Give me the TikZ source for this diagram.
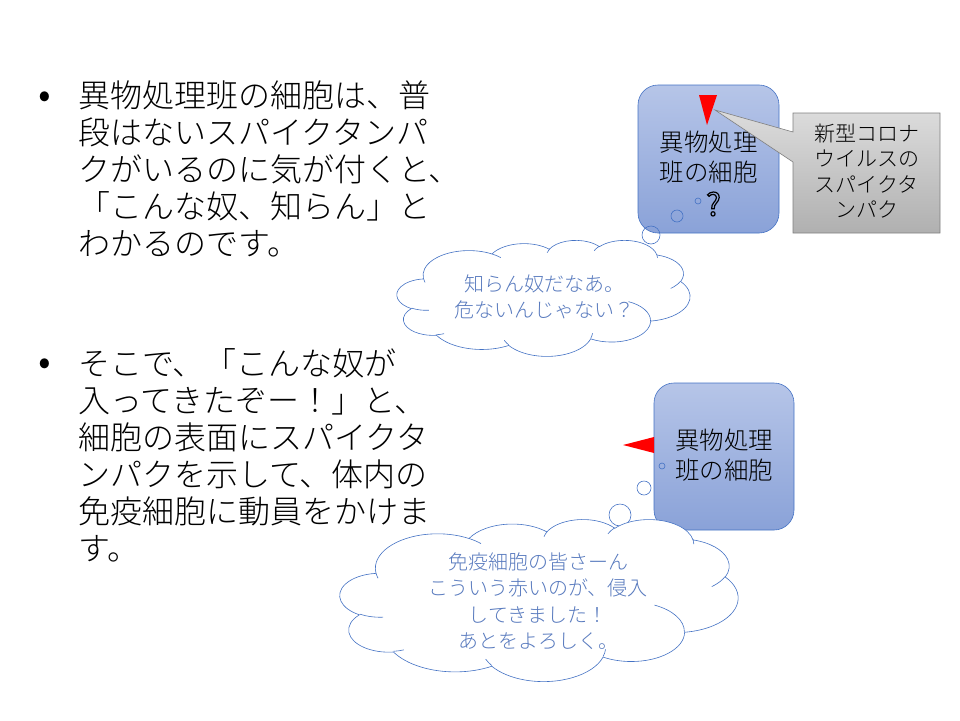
\documentclass[tikz,border=0pt]{standalone}
\usepackage{fontspec}
\IfFontExistsTF{Noto Sans CJK JP Light}{\setmainfont{Noto Sans CJK JP Light}}{\setmainfont{Noto Sans CJK JP}}
\newfontfamily\qfont{Noto Sans CJK JP}

\definecolor{cellTop}{RGB}{182,197,232}
\definecolor{cellBot}{RGB}{138,162,216}
\definecolor{cellLine}{RGB}{68,114,196}
\definecolor{callTop}{RGB}{220,220,220}
\definecolor{callBot}{RGB}{176,176,176}
\definecolor{callLine}{RGB}{128,128,128}
\definecolor{thinkText}{RGB}{88,122,190}

% arc with visual angles (deg) on an ellipse of radii #1,#2
\newcommand\puffarc[4]{%
  \pgfextra{%
    \pgfmathsetmacro\pA{atan2(#1*sin(#3),#2*cos(#3))}%
    \pgfmathsetmacro\pB{atan2(#1*sin(#3+#4),#2*cos(#3+#4))}%
    \pgfmathsetmacro\pD{mod(\pB-\pA+720,360)}}
  arc[start angle=\pA, delta angle=\pD, x radius=#1, y radius=#2]}

% cloud outline in a 432 x 432 box
\newcommand\cloudline{(39.00,143.70)
  \puffarc{67.53}{91.90}{-190.48748}{123.78053}
  \puffarc{53.33}{72.67}{-144.10238}{89.94523}
  \puffarc{43.65}{59.45}{-145.80792}{99.72302}
  \puffarc{48.57}{65.95}{-130.98607}{117.24173}
  \puffarc{53.33}{72.73}{-78.70888}{109.02692}
  \puffarc{67.75}{92.20}{-46.26725}{130.26900}
  \puffarc{57.85}{78.67}{0.62502}{114.03333}
  \puffarc{67.52}{92.15}{22.45160}{115.17255}
  \puffarc{77.20}{105.43}{66.24263}{75.71102}
  \puffarc{43.60}{59.18}{-274.94208}{146.73557}
  \puffarc{43.45}{59.45}{-246.82850}{152.51885} -- cycle}
\newcommand\cloudcurls{
  (46.93,261.77) \puffarc{43.45}{59.45}{86.74200}{26.42950}
  (69.28,348.99) \puffarc{43.60}{59.18}{73.61047}{11.44747}
  (164.78,390.90) \puffarc{67.52}{92.15}{137.62415}{14.08110}
  (288.27,347.51) \puffarc{67.52}{92.15}{6.45327}{15.99835}
  (341.29,229.54) \puffarc{57.85}{78.67}{-70.29235}{70.91737}
  (417.98,153.54) \puffarc{53.33}{72.73}{30.31803}{27.75150}
  (383.24,54.26) \puffarc{48.57}{65.95}{-13.74433}{14.85890}
  (290.78,39.52) \puffarc{48.57}{65.95}{-149.18145}{18.19537}
  (221.41,47.20) \puffarc{43.65}{59.45}{-163.49427}{17.68635}
  (140.00,51.92) \puffarc{67.53}{91.90}{-66.70695}{12.31935}
  (41.27,157.89) \puffarc{67.53}{91.90}{157.65435}{11.85817}}

\begin{document}
\begin{tikzpicture}[x=1pt,y=1pt,yscale=-1,xscale=1,
    cellbox/.style={draw=cellLine, line width=0.6pt, rounded corners=20pt, top color=cellTop, bottom color=cellBot, inner sep=0pt},
    celltext/.style={font=\fontsize{24.5}{30}\selectfont, align=center, inner sep=0pt},
    thought/.style={draw=cellLine, line width=0.6pt},
    thinktext/.style={font=\fontsize{20}{26.5}\selectfont, text=thinkText, align=center, inner sep=0pt},
    bubble/.style={draw=cellLine, line width=0.6pt},
    bodytext/.style={font=\fontsize{32}{37}\selectfont, align=left, inner sep=0pt, anchor=north west},
    dot/.style={font=\fontsize{40}{40}\selectfont, inner sep=0pt}]
        \useasboundingbox (0,0) rectangle (960,720);

        % Text Node
        \draw (45,100) node [dot] (dotA) {•};
        \draw (78,81) node [bodytext] (bodyA) {異物処理班の細胞は、普\\段はないスパイクタンパ\\クがいるのに気が付くと、\\「こんな奴、知らん」と\\わかるのです。};
        % Text Node
        \draw (45,367) node [dot] (dotB) {•};
        \draw (78,348) node [bodytext] (bodyB) {そこで、「こんな奴が\\入ってきたぞー！」と、\\細胞の表面にスパイクタ\\ンパクを示して、体内の\\免疫細胞に動員をかけま\\す。};

        %Shape: Rounded Rect [id:cellA]
        \draw (708.5,159) node [cellbox, minimum width=141pt, minimum height=148pt] (cellA) {};
        \draw (708.5,157) node [celltext] (cellAtext) {異物処理\\班の細胞};
        \draw (713.5,204) node [inner sep=0pt, font=\qfont\fontsize{31}{31}\selectfont] (query) {\special{pdf:literal direct 1 Tr 1.2 w}?\special{pdf:literal direct 0 Tr}};

        %Shape: Callout [id:callout]
        \coordinate (spikeTip) at (715,110);
        \shade [top color=callTop, bottom color=callBot, draw=callLine, line width=0.6pt] (793,113) -- (940,113) -- (940,233) -- (793,233) -- (793,162) -- (spikeTip) -- (793,132) -- cycle;
        \draw (866.5,171) node [inner sep=0pt, align=center, font=\fontsize{21}{25.5}\selectfont] (callText) {新型コロナ\\ウイルスの\\スパイクタ\\ンパク};

        %Shape: Triangle [id:spikeA]
        \fill [red] (699,95) -- (717,95) -- (707,125) -- cycle;

        %Shape: Cloud [id:thinkA]
        \draw (698,201) node [bubble, circle, minimum size=6pt, inner sep=0pt] (puffA1) {};
        \draw (677,216) node [bubble, circle, minimum size=12pt, inner sep=0pt] (puffA2) {};
        \draw (651,235) node [bubble, circle, minimum size=18pt, inner sep=0pt] (puffA3) {};
        \begin{scope}[shift={(397,240)}, x=293/432*1pt, y=116/432*1pt]
            \draw [thought, fill=white] \cloudline;
            \draw [thought] \cloudcurls;
        \end{scope}
        \draw (544,297) node [thinktext] (thinkAtext) {知らん奴だなあ。\\危ないんじゃない？};

        %Shape: Rounded Rect [id:cellB]
        \draw (724,456.5) node [cellbox, minimum width=140pt, minimum height=147pt] (cellB) {};
        \draw (724,455) node [celltext] (cellBtext) {異物処理\\班の細胞};

        %Shape: Triangle [id:spikeB]
        \fill [red] (654,437) -- (654,453) -- (623,445) -- cycle;

        %Shape: Cloud [id:thinkB]
        \draw (662,466) node [bubble, circle, minimum size=6pt, inner sep=0pt] (puffB1) {};
        \draw (644,488) node [bubble, circle, minimum size=14pt, inner sep=0pt] (puffB2) {};
        \draw (620,515) node [bubble, circle, minimum size=22pt, inner sep=0pt] (puffB3) {};
        \begin{scope}[shift={(340,519)}, x=398/432*1pt, y=162/432*1pt]
            \draw [thought, fill=white] \cloudline;
            \draw [thought] \cloudcurls;
        \end{scope}
        \draw (538,601) node [thinktext] (thinkBtext) {免疫細胞の皆さーん\\こういう赤いのが、侵入\\してきました！\\あとをよろしく。};

\end{tikzpicture}
\end{document}
